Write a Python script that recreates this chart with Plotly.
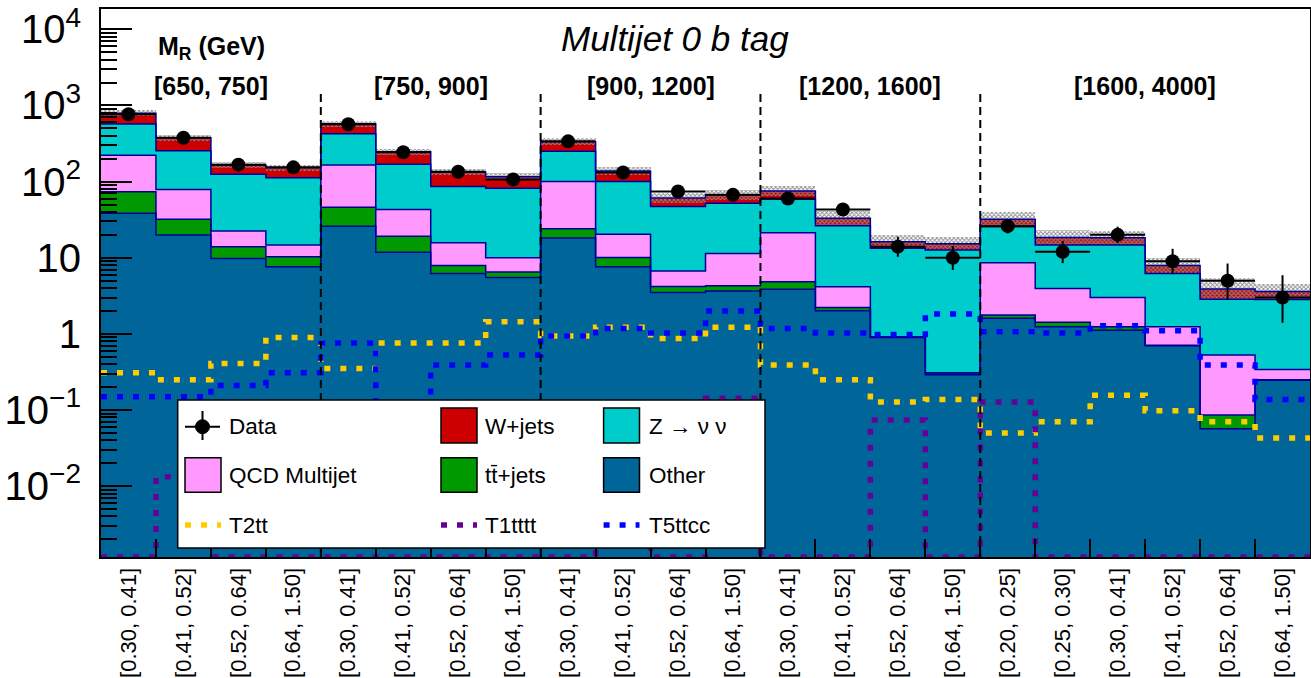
import numpy as np
import plotly.graph_objects as go

# ---------------- data ----------------
bin_labels = ["[0.30, 0.41]", "[0.41, 0.52]", "[0.52, 0.64]", "[0.64, 1.50]"] * 4 + [
    "[0.20, 0.25]", "[0.25, 0.30]", "[0.30, 0.41]", "[0.41, 0.52]", "[0.52, 0.64]", "[0.64, 1.50]"]
mr_labels = ["[650, 750]", "[750, 900]", "[900, 1200]", "[1200, 1600]", "[1600, 4000]"]
mr_nbins = [4, 4, 4, 4, 6]

other = [38.3, 19.9, 9.8, 7.6, 26.0, 11.8, 6.2, 5.5, 18.2, 7.6, 3.5, 3.65,
         3.85, 2.01, 0.90, 0.29, 1.6, 1.24, 1.12, 0.70, 0.057, 0.247]
ttbar = [35.3, 12.1, 4.2, 2.7, 20.0, 7.3, 1.7, 1.0, 5.8, 2.5, 0.7, 0.65,
         0.98, 0.22, 0.01, 0.02, 0.17, 0.18, 0.12, 0.01, 0.029, 0.003]
qcd = [148.4, 47.0, 8.4, 4.4, 119.0, 23.9, 7.8, 3.5, 76.0, 10.2, 2.5, 7.1,
       16.5, 1.93, 0.01, 0.0, 6.83, 2.54, 1.76, 0.53, 0.444, 0.09]
znunu = [349.0, 176.0, 102.6, 97.3, 261.0, 126.0, 70.3, 72.0, 150.0, 79.7, 40.3, 40.6,
         37.2, 22.2, 12.4, 12.3, 17.1, 10.7, 11.7, 4.96, 2.33, 2.5]
wjets = [218.0, 122.0, 40.0, 40.0, 151.0, 78.0, 47.0, 34.0, 84.0, 38.0, 14.0, 15.0,
         16.5, 6.6, 2.9, 2.7, 6.3, 3.8, 3.6, 1.7, 1.04, 0.76]
bkg_unc = [0.10, 0.10, 0.10, 0.10, 0.10, 0.10, 0.10, 0.12, 0.12, 0.14, 0.16, 0.16,
           0.17, 0.25, 0.22, 0.21, 0.25, 0.25, 0.24, 0.27, 0.37, 0.27]

data = [766, 377, 167, 154, 566, 243, 135, 107, 338, 132, 74, 67,
        60, 43, 14, 10, 26, 12, 20, 9, 5, 3]
data_err_hi = [28.7, 20.4, 13.9, 13.4, 24.8, 16.6, 12.6, 11.4, 19.4, 12.5, 9.6, 9.2,
               8.8, 7.6, 4.9, 4.3, 6.2, 4.6, 5.6, 4.1, 3.4, 2.9]
data_err_lo = [27.7, 19.4, 12.9, 12.4, 23.8, 15.6, 11.6, 10.3, 18.4, 11.5, 8.6, 8.2,
               7.7, 6.5, 3.7, 3.1, 5.1, 3.5, 4.4, 2.9, 2.2, 1.6]

t2tt = [0.31, 0.25, 0.41, 0.90, 0.35, 0.76, 0.76, 1.44, 0.94, 1.22, 0.87, 1.22,
        0.39, 0.25, 0.128, 0.138, 0.050, 0.070, 0.157, 0.098, 0.070, 0.043]
t1tttt = [0, 0.0133, 0, 0, 0, 0, 0, 0, 0, 0.03, 0, 0.143,
          0, 0, 0.074, 0, 0.128, 0, 0, 0, 0, 0]
t5ttcc = [0.149, 0.149, 0.21, 0.31, 0.76, 0.05, 0.39, 0.53, 0.94, 1.18, 1.03, 2.0,
          1.18, 1.03, 0.98, 1.82, 1.07, 1.03, 1.28, 1.10, 0.39, 0.138]

# ---------------- styles ----------------
FONT = "Liberation Sans, Arial, Helvetica, sans-serif"
C_OTHER = "#006699"
C_TT = "#009900"
C_QCD = "#ff99ff"
C_Z = "#00cccc"
C_W = "#cc0000"
C_T2 = "#ffcc00"
C_T1 = "#660099"
C_T5 = "#0000ff"
OUTLINE = "#000099"
YLOG = [-2.93, 4.267]
YMIN = 10 ** YLOG[0]

nb = len(data)
centers = np.arange(nb) + 0.5
edges = np.arange(nb + 1)

L, R, T, B = 101, 1310, 9, 557
def px(x):
    return (x - L) / (R - L)
def py(y):
    return (B - y) / (B - T)

fig = go.Figure()

# stacked backgrounds
comps = [("Other", other, C_OTHER), ("tt+jets", ttbar, C_TT), ("QCD Multijet", qcd, C_QCD),
         ("Z->nunu", znunu, C_Z), ("W+jets", wjets, C_W)]
for name, vals, col in comps:
    fig.add_trace(go.Bar(x=centers, y=vals, width=1.0, marker=dict(color=col, line=dict(width=0)),
                         name=name, showlegend=False))

# step outlines of cumulative stack
cum = np.zeros(nb)
for name, vals, col in comps:
    cum = cum + np.array(vals)
    fig.add_trace(go.Scatter(x=edges, y=list(cum) + [cum[-1]], mode="lines",
                             line=dict(color=OUTLINE, width=1.5, shape="hv"),
                             showlegend=False, hoverinfo="skip"))
total = cum

# uncertainty band (hatched)
unc = np.array(bkg_unc)
lo = total / (1 + unc)
hi = total * (1 + unc)
fig.add_trace(go.Bar(x=centers, y=hi - lo, base=lo, width=1.0,
                     marker=dict(color="#8a8a8a", line=dict(width=0),
                                 pattern=dict(shape="x", size=3, solidity=0.5, fillmode="replace")),
                     showlegend=False, hoverinfo="skip"))

# signals
def sig_y(v):
    v = np.array(v, dtype=float)
    v = np.where(v > 0, v, YMIN)
    return list(v) + [v[-1]]

for vals, col in [(t2tt, C_T2), (t1tttt, C_T1), (t5ttcc, C_T5)]:
    fig.add_trace(go.Scatter(x=edges, y=sig_y(vals), mode="lines",
                             line=dict(color=col, width=5.5, shape="hv", dash="6px,10px"),
                             showlegend=False, hoverinfo="skip"))

# data
fig.add_trace(go.Scatter(x=centers, y=data, mode="markers",
                         marker=dict(color="black", size=14),
                         error_y=dict(type="data", array=data_err_hi, arrayminus=data_err_lo,
                                      color="black", thickness=2, width=0),
                         error_x=dict(type="data", array=[0.5] * nb, color="black", thickness=2, width=0),
                         showlegend=False))

# ---------------- shapes & annotations ----------------
shapes = []
annots = []

# dashed separators between M_R regions
pos = 0
for n in mr_nbins[:-1]:
    pos += n
    shapes.append(dict(type="line", xref="x", yref="paper", x0=pos, x1=pos, y0=0, y1=py(89),
                       line=dict(color="black", width=2, dash="8px,5px"), layer="above"))

# region labels
pos = 0
for lab, n in zip(mr_labels, mr_nbins):
    annots.append(dict(text="<b>%s</b>" % lab, x=pos + n / 2, xref="x", y=py(86), yref="paper",
                       showarrow=False, font=dict(size=25, family=FONT, color="black"),
                       xanchor="center", yanchor="middle"))
    pos += n

annots.append(dict(text="<b>M<sub>R</sub> (GeV)</b>", x=px(211), y=py(48), xref="paper", yref="paper",
                   showarrow=False, font=dict(size=25, family=FONT, color="black"),
                   xanchor="center", yanchor="middle"))
annots.append(dict(text="<i>Multijet 0 b tag</i>", x=px(675), y=py(38), xref="paper", yref="paper",
                   showarrow=False, font=dict(size=35, family=FONT, color="black"),
                   xanchor="center", yanchor="middle"))
annots.append(dict(text="Events / bin", x=0, xshift=-97, y=py(120), xref="paper", yref="paper",
                   textangle=-90, showarrow=False, font=dict(size=40, family=FONT, color="#222"),
                   xanchor="right", yanchor="middle"))

# legend (drawn manually)
shapes.append(dict(type="rect", xref="paper", yref="paper", x0=px(177.7), x1=px(765),
                   y0=py(548), y1=py(400), fillcolor="white", line=dict(color="black", width=1.5),
                   layer="above"))
col_box = [(185, 221), (441, 477), (603.6, 639.5)]
col_txt = [227, 483, 646.5]
row_y = [426.7, 475, 525]
row_box = [(408, 443), (457.7, 492.3)]

def box(ci, ri, color):
    x0, x1 = col_box[ci]
    y0, y1 = row_box[ri]
    shapes.append(dict(type="rect", xref="paper", yref="paper", x0=px(x0), x1=px(x1),
                       y0=py(y1), y1=py(y0), fillcolor=color,
                       line=dict(color="black", width=1.5), layer="above"))

def ltext(ci, ri, text):
    annots.append(dict(text=text, x=px(col_txt[ci]), y=py(row_y[ri]), xref="paper", yref="paper",
                       showarrow=False, font=dict(size=22.5, family=FONT, color="black"),
                       xanchor="left", yanchor="middle"))

def lline(ci, ri, color):
    x0, x1 = col_box[ci]
    shapes.append(dict(type="line", xref="paper", yref="paper", x0=px(x0), x1=px(x1),
                       y0=py(row_y[ri]), y1=py(row_y[ri]),
                       line=dict(color=color, width=5.5, dash="6px,10px"), layer="above"))

# Data symbol
shapes.append(dict(type="line", xref="paper", yref="paper", x0=px(185), x1=px(220),
                   y0=py(426.7), y1=py(426.7), line=dict(color="black", width=2), layer="above"))
shapes.append(dict(type="line", xref="paper", yref="paper", x0=px(202.5), x1=px(202.5),
                   y0=py(440), y1=py(411), line=dict(color="black", width=2), layer="above"))
shapes.append(dict(type="circle", xref="paper", yref="paper", x0=px(195.5), x1=px(209.5),
                   y0=py(433.7), y1=py(419.7), fillcolor="black", line=dict(color="black", width=1),
                   layer="above"))
ltext(0, 0, "Data")
box(1, 0, C_W); ltext(1, 0, "W+jets")
box(2, 0, C_Z); ltext(2, 0, "Z \u2192 \u03bd \u03bd")
box(0, 1, C_QCD); ltext(0, 1, "QCD Multijet")
box(1, 1, C_TT); ltext(1, 1, "tt\u0304+jets")
box(2, 1, C_OTHER); ltext(2, 1, "Other")
lline(0, 2, C_T2); ltext(0, 2, "T2tt")
lline(1, 2, C_T1); ltext(1, 2, "T1tttt")
lline(2, 2, C_T5); ltext(2, 2, "T5ttcc")

# axes ticks
yt_vals = [1e-2, 1e-1, 1, 10, 100, 1000, 1e4]
yt_text = ["10<sup>\u22122</sup>", "10<sup>\u22121</sup>", "1", "10",
           "10<sup>2</sup>", "10<sup>3</sup>", "10<sup>4</sup>"]
y_minor = [m * 10.0 ** e for e in range(-3, 5) for m in range(2, 10)
           if YMIN < m * 10.0 ** e < 10 ** YLOG[1]]

fig.update_layout(
    width=1311, height=678, autosize=False,
    margin=dict(l=L, r=1311 - R, t=T, b=678 - B),
    paper_bgcolor="white", plot_bgcolor="white",
    barmode="stack", bargap=0, showlegend=False,
    font=dict(family=FONT, color="black"),
    shapes=shapes, annotations=annots,
    xaxis=dict(range=[0, nb], tickmode="array", tickvals=list(centers), ticktext=bin_labels,
               tickangle=-90, ticks="", showgrid=False, zeroline=False, automargin=False,
               showline=True, linecolor="black", linewidth=2, mirror=True,
               tickfont=dict(size=22, family=FONT, color="black"), ticklabelstandoff=0,
               minor=dict(tickmode="array", tickvals=list(edges[1:-1]), ticks="inside",
                          ticklen=18, tickwidth=1.5, tickcolor="black", showgrid=False)),
    yaxis=dict(type="log", range=YLOG, tickmode="array", tickvals=yt_vals, ticktext=yt_text,
               ticks="inside", ticklen=31, tickwidth=1.5, tickcolor="black", automargin=False,
               showgrid=False, zeroline=False, showline=True, linecolor="black", linewidth=2,
               mirror=True, tickfont=dict(size=40, family=FONT, color="black"),
               ticklabelstandoff=10,
               minor=dict(tickmode="array", tickvals=y_minor, ticks="inside", ticklen=16,
                          tickwidth=1.5, tickcolor="black", showgrid=False)),
)

fig.write_html("out.html", config={"displayModeBar": False},
               post_script="document.body.style.margin='0';document.body.style.overflow='hidden';")
